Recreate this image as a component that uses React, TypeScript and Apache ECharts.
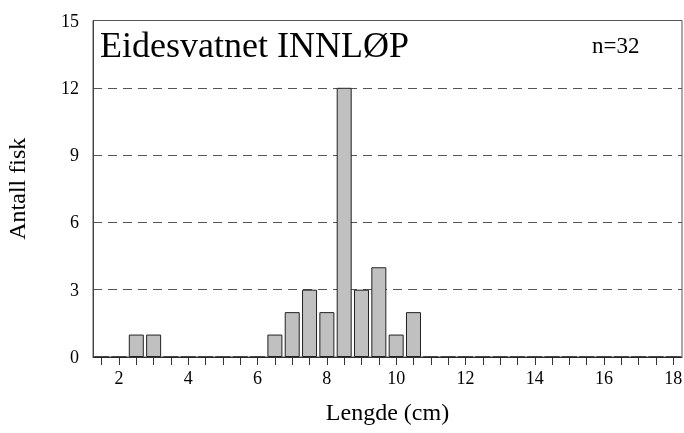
import React, { useEffect, useRef } from "react";
import * as echarts from "echarts";

const lengthBins: string[] = [
  "1.5", "2", "2.5", "3", "3.5", "4", "4.5", "5", "5.5", "6", "6.5", "7",
  "7.5", "8", "8.5", "9", "9.5", "10", "10.5", "11", "11.5", "12", "12.5", "13",
  "13.5", "14", "14.5", "15", "15.5", "16", "16.5", "17", "17.5", "18",
];
const fishCounts: number[] = [
  0, 0, 1, 1, 0, 0, 0, 0, 0, 0, 1, 2,
  3, 2, 12, 3, 4, 1, 2, 0, 0, 0, 0, 0,
  0, 0, 0, 0, 0, 0, 0, 0, 0, 0,
];
const yTicks = { min: 0, max: 15, interval: 3 };
const titleText = "Eidesvatnet INNLØP";
const nText = "n=32";
const xName = "Lengde (cm)";
const yName = "Antall fisk";

const FONT = "Times New Roman";

export default function App() {
  const ref = useRef<HTMLDivElement>(null);
  useEffect(() => {
    if (!ref.current) return;
    const chart = echarts.init(ref.current, undefined, { renderer: "svg" });
    chart.setOption({
      animation: false,
      grid: {
        left: 93,
        top: 20.5,
        right: 2,
        bottom: 76,
        show: true,
        borderColor: "#555",
        borderWidth: 1,
        outerBoundsMode: "none",
      },
      graphic: [
        {
          type: "text",
          left: 100,
          top: 27,
          style: { text: titleText, fontFamily: FONT, fontSize: 36, fill: "#000" },
        },
        {
          type: "text",
          left: 592,
          top: 34,
          style: { text: nText, fontFamily: FONT, fontSize: 23, fill: "#000" },
        },
      ],
      xAxis: {
        type: "category",
        data: lengthBins,
        boundaryGap: true,
        name: xName,
        nameLocation: "middle",
        nameGap: 43,
        nameTextStyle: { fontFamily: FONT, fontSize: 24, color: "#000" },
        axisLine: { show: true, lineStyle: { color: "#333", width: 1 } },
        axisTick: {
          show: true,
          alignWithLabel: true,
          interval: 0,
          length: 8,
          lineStyle: { color: "#333", width: 1 },
        },
        axisLabel: {
          interval: (index: number, value: string) => Number(value) % 2 === 0,
          fontFamily: FONT,
          fontSize: 18,
          color: "#000",
          margin: 12,
        },
        splitLine: { show: false },
      },
      yAxis: {
        type: "value",
        min: yTicks.min,
        max: yTicks.max,
        interval: yTicks.interval,
        name: yName,
        nameLocation: "middle",
        nameGap: 64,
        nameRotate: 90,
        nameTextStyle: { fontFamily: FONT, fontSize: 24, color: "#000" },
        axisLine: { show: true, lineStyle: { color: "#444", width: 1 } },
        axisTick: { show: false },
        axisLabel: { fontFamily: FONT, fontSize: 18, color: "#000", margin: 14 },
        splitLine: {
          show: true,
          lineStyle: { color: "#555", type: [9, 6], width: 1 },
        },
      },
      series: [
        {
          type: "bar",
          data: fishCounts,
          barWidth: 15,
          itemStyle: { color: "#c0c0c0", borderColor: "#222", borderWidth: 1 },
        },
      ],
    });
    return () => chart.dispose();
  }, []);
  return (
    <div style={{ fontFamily: "Liberation Serif" }}>
      <div
        ref={ref}
        style={{ position: "fixed", left: 0, top: 0, width: 684, height: 433 }}
      />
    </div>
  );
}
